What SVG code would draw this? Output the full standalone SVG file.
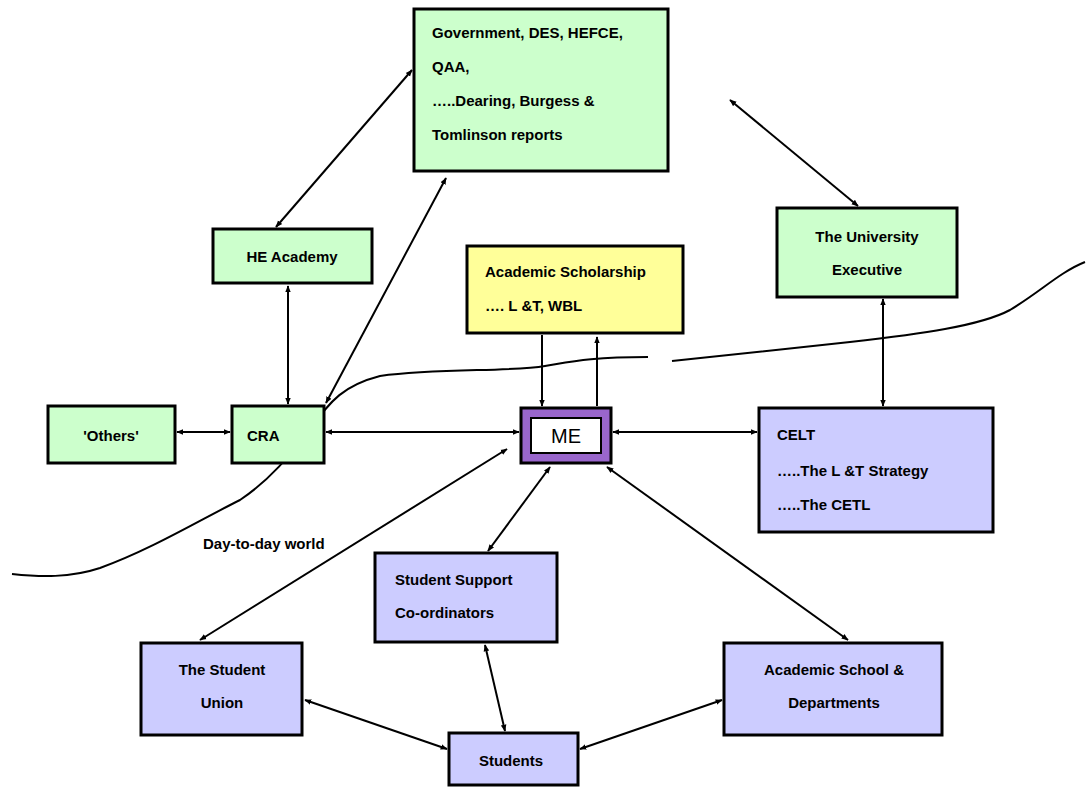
<svg xmlns="http://www.w3.org/2000/svg" width="1087" height="787" viewBox="0 0 1087 787">
  <style>
    .box { stroke: #000; stroke-width: 3; }
    .green { fill: #ccffcc; }
    .blue { fill: #ccccff; }
    .yellow { fill: #ffff99; }
    .lbl { font-family: "Liberation Sans", Arial, sans-serif; font-weight: bold; font-size: 15px; fill: #000; }
    .mid { text-anchor: middle; }
    .conn { stroke: #000; stroke-width: 2; fill: none; }
    .curve { stroke: #000; stroke-width: 2; fill: none; }
  </style>
  <defs>
    <marker id="ah" viewBox="0 0 10 10" refX="9" refY="5" markerWidth="7" markerHeight="7" orient="auto-start-reverse" markerUnits="userSpaceOnUse">
      <path d="M0,1 L10,5 L0,9 z" fill="#000"/>
    </marker>
  </defs>

  <rect width="1087" height="787" fill="#fff"/>

  <!-- hand-drawn boundary line -->
  <g id="boundary">
    <path class="curve" d="M12,574 C40,577 70,578 100,568 C150,550 200,520 240,500 C270,480 290,455 310,430 C330,400 345,385 380,376 C440,368 510,372 545,366 C570,362 590,357 648,357"/>
    <path class="curve" d="M672,361 C720,356 780,350 850,342 C920,334 980,326 1010,310 C1040,292 1060,272 1085,262"/>
  </g>

  <g id="connectors">
    <line class="conn" x1="412" y1="70" x2="276" y2="227" marker-start="url(#ah)" marker-end="url(#ah)"/>
    <line class="conn" x1="446" y1="178" x2="326" y2="403" marker-start="url(#ah)" marker-end="url(#ah)"/>
    <line class="conn" x1="288" y1="286" x2="288" y2="404" marker-start="url(#ah)" marker-end="url(#ah)"/>
    <line class="conn" x1="730" y1="100" x2="858" y2="206" marker-start="url(#ah)" marker-end="url(#ah)"/>
    <line class="conn" x1="883" y1="299" x2="883" y2="406" marker-start="url(#ah)" marker-end="url(#ah)"/>
    <line class="conn" x1="177" y1="432" x2="230" y2="432" marker-start="url(#ah)" marker-end="url(#ah)"/>
    <line class="conn" x1="326" y1="432" x2="519" y2="432" marker-start="url(#ah)" marker-end="url(#ah)"/>
    <line class="conn" x1="613" y1="432" x2="757" y2="432" marker-start="url(#ah)" marker-end="url(#ah)"/>
    <line class="conn" x1="542" y1="335" x2="542" y2="406" marker-end="url(#ah)"/>
    <line class="conn" x1="597" y1="406" x2="597" y2="337" marker-end="url(#ah)"/>
    <line class="conn" x1="507" y1="449" x2="200" y2="640" marker-start="url(#ah)" marker-end="url(#ah)"/>
    <line class="conn" x1="550" y1="467" x2="488" y2="551" marker-start="url(#ah)" marker-end="url(#ah)"/>
    <line class="conn" x1="607" y1="467" x2="848" y2="640" marker-start="url(#ah)" marker-end="url(#ah)"/>
    <line class="conn" x1="485" y1="645" x2="505" y2="731" marker-start="url(#ah)" marker-end="url(#ah)"/>
    <line class="conn" x1="305" y1="700" x2="447" y2="749" marker-start="url(#ah)" marker-end="url(#ah)"/>
    <line class="conn" x1="722" y1="700" x2="580" y2="749" marker-start="url(#ah)" marker-end="url(#ah)"/>
  </g>

  <g id="government">
    <rect class="box green" x="414" y="9" width="254" height="162"/>
    <text class="lbl" x="432" y="38">Government, DES, HEFCE,</text>
    <text class="lbl" x="432" y="72">QAA,</text>
    <text class="lbl" x="432" y="106">…..Dearing, Burgess &amp;</text>
    <text class="lbl" x="432" y="140">Tomlinson reports</text>
  </g>

  <g id="he-academy">
    <rect class="box green" x="213" y="229" width="159" height="54"/>
    <text class="lbl mid" x="292" y="262">HE Academy</text>
  </g>

  <g id="scholarship">
    <rect class="box yellow" x="467" y="246" width="216" height="87"/>
    <text class="lbl" x="485" y="277">Academic Scholarship</text>
    <text class="lbl" x="485" y="311">…. L &amp;T, WBL</text>
  </g>

  <g id="executive">
    <rect class="box green" x="777" y="208" width="180" height="89"/>
    <text class="lbl mid" x="867" y="242">The University</text>
    <text class="lbl mid" x="867" y="275">Executive</text>
  </g>

  <g id="others">
    <rect class="box green" x="48" y="406" width="127" height="57"/>
    <text class="lbl mid" x="111" y="441">'Others'</text>
  </g>

  <g id="cra">
    <rect class="box green" x="232" y="406" width="92" height="57"/>
    <text class="lbl" x="247" y="441">CRA</text>
  </g>

  <g id="me">
    <rect x="521" y="408" width="90" height="55" fill="#9966cc" stroke="#000" stroke-width="3"/>
    <rect x="531" y="418" width="70" height="35" fill="#fff" stroke="#000" stroke-width="2"/>
    <text x="566" y="443" text-anchor="middle" font-family="Liberation Sans, Arial, sans-serif" font-size="20" fill="#000">ME</text>
  </g>

  <g id="celt">
    <rect class="box blue" x="759" y="408" width="234" height="124"/>
    <text class="lbl" x="777" y="440">CELT</text>
    <text class="lbl" x="777" y="476">…..The L &amp;T Strategy</text>
    <text class="lbl" x="777" y="510">…..The CETL</text>
  </g>

  <g id="support">
    <rect class="box blue" x="375" y="553" width="182" height="89"/>
    <text class="lbl" x="395" y="585">Student Support</text>
    <text class="lbl" x="395" y="618">Co-ordinators</text>
  </g>

  <g id="union">
    <rect class="box blue" x="141" y="643" width="161" height="92"/>
    <text class="lbl mid" x="222" y="675">The Student</text>
    <text class="lbl mid" x="222" y="708">Union</text>
  </g>

  <g id="school">
    <rect class="box blue" x="724" y="643" width="218" height="92"/>
    <text class="lbl mid" x="834" y="675">Academic School &amp;</text>
    <text class="lbl mid" x="834" y="708">Departments</text>
  </g>

  <g id="students">
    <rect class="box blue" x="449" y="733" width="129" height="52"/>
    <text class="lbl mid" x="511" y="766">Students</text>
  </g>

  <text class="lbl" x="203" y="549">Day-to-day world</text>
</svg>
